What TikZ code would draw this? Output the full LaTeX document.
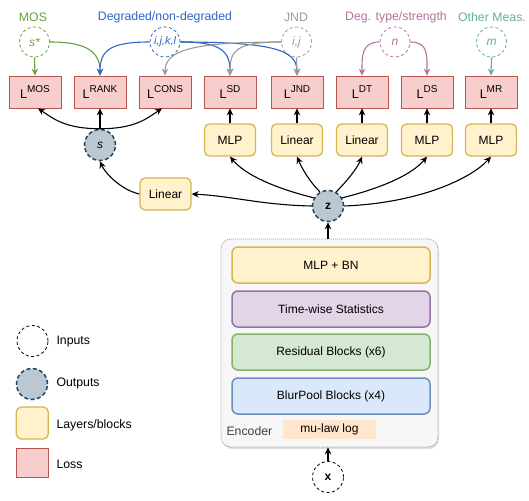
\documentclass[tikz,border=0pt]{standalone}
\usepackage{fontspec}
\setmainfont{Liberation Sans}
\usetikzlibrary{arrows.meta,shadows}
\definecolor{cgreen}{HTML}{64A33B}
\definecolor{cblue}{HTML}{2E64C2}
\definecolor{cgray}{HTML}{9A9A9A}
\definecolor{cpurple}{HTML}{B0739E}
\definecolor{cteal}{HTML}{67AB9F}
\definecolor{lossf}{HTML}{F8CECC}
\definecolor{lossd}{HTML}{B85450}
\definecolor{layf}{HTML}{FFF2CC}
\definecolor{layd}{HTML}{D6B656}
\definecolor{purf}{HTML}{E1D5E7}
\definecolor{purd}{HTML}{9673A6}
\definecolor{grnf}{HTML}{D5E8D4}
\definecolor{grnd}{HTML}{82B366}
\definecolor{bluf}{HTML}{DAE8FC}
\definecolor{blud}{HTML}{6C8EBF}
\definecolor{orgf}{HTML}{FFE6CC}
\definecolor{outf}{HTML}{BAC8D3}
\definecolor{outd}{HTML}{23445D}
\definecolor{encf}{HTML}{F7F7F7}
\definecolor{encd}{HTML}{9A9A9A}
\newcommand{\lossl}[1]{\fontsize{12.5}{14}\selectfont L\raisebox{6.5pt}{\fontsize{10}{12}\selectfont #1}}
\begin{document}
\begin{tikzpicture}[x=1pt,y=1pt,
  every node/.style={font=\fontsize{12}{14}\selectfont},
  inp/.style={circle, draw=#1, text=#1, minimum size=30pt, inner sep=0pt, line width=0.8pt, dash pattern=on 3pt off 2.5pt, font=\fontsize{12}{14}\selectfont\itshape},
  hdr/.style={text=#1, font=\fontsize{12.3}{14}\selectfont},
  lossbox/.style={rectangle, draw=lossd, fill=lossf, line width=0.8pt, minimum width=52pt, minimum height=32pt, inner sep=0pt},
  layer/.style={rectangle, rounded corners=5pt, draw=layd, fill=layf, line width=1.3pt, minimum width=51pt, minimum height=32pt, inner sep=0pt},
  outc/.style={circle, fill=outf, draw=outd, line width=1.5pt, dash pattern=on 4pt off 2.5pt, minimum size=31pt, inner sep=0pt},
  blk/.style={rectangle, rounded corners=6pt, line width=1.5pt, minimum width=198pt, minimum height=36pt, inner sep=0pt},
  arr/.style={-{Stealth[length=7pt,width=6.5pt]}, line width=1.1pt},
  carr/.style={arr, draw=#1},
  legtxt/.style={anchor=west, font=\fontsize{12.3}{14}\selectfont},
]
\useasboundingbox (0,0) rectangle (529,-500);

% headers
\node[hdr=cgreen] (hmos) at (33,-17) {MOS};
\node[hdr=cblue] (hdeg) at (165,-17) {Degraded/non-degraded};
\node[hdr=cgray] (hjnd) at (296,-17) {JND};
\node[hdr=cpurple] (htype) at (396,-17) {Deg. type/strength};
\node[hdr=cteal] (hother) at (492,-17) {Other Meas.};

% inputs
\node[inp=cgreen] (sstar) at (34.5,-42) {s*};
\node[inp=cblue, font=\fontsize{11}{13}\selectfont\itshape] (ijkl) at (165,-42) {i,j,k,l};
\node[inp=cgray] (ij) at (296.5,-42) {i,j};
\node[inp=cpurple] (n) at (395,-42) {n};
\node[inp=cteal] (m) at (491.5,-42) {m};

% losses
\node[lossbox] (mos) at (35,-92) {\lossl{MOS}};
\node[lossbox] (rank) at (100,-92) {\lossl{RANK}};
\node[lossbox] (cons) at (165,-92) {\lossl{CONS}};
\node[lossbox] (sd) at (230,-92) {\lossl{SD}};
\node[lossbox] (jnd) at (297,-92) {\lossl{JND}};
\node[lossbox] (dt) at (362,-92) {\lossl{DT}};
\node[lossbox] (ds) at (427,-92) {\lossl{DS}};
\node[lossbox] (mr) at (491,-92) {\lossl{MR}};

% heads
\node[layer] (mlp1) at (230,-140) {MLP};
\node[layer] (lin1) at (297,-140) {Linear};
\node[layer] (lin2) at (362,-140) {Linear};
\node[layer] (mlp2) at (427,-140) {MLP};
\node[layer] (mlp3) at (491,-140) {MLP};
\node[layer] (lin0) at (165.5,-194) {Linear};

% outputs
\node[outc, font=\fontsize{12}{14}\selectfont\itshape] (s) at (100,-145) {s};
\node[outc, font=\fontsize{12}{14}\selectfont\bfseries] (z) at (328,-206) {z};

% encoder
\node[draw=encd, fill=encf, rounded corners=10pt, line width=0.8pt, dash pattern=on 1pt off 1pt, minimum width=217pt, minimum height=208pt, inner sep=0pt, drop shadow={opacity=0.25, shadow xshift=1pt, shadow yshift=-2pt}] (enc) at (329.5,-343) {};
\node[blk, draw=layd, fill=layf] (mlpbn) at (331,-265) {MLP + BN};
\node[blk, draw=purd, fill=purf] (tws) at (331,-309) {Time-wise Statistics};
\node[blk, draw=grnd, fill=grnf] (res) at (331,-352) {Residual Blocks (x6)};
\node[blk, draw=blud, fill=bluf] (blur) at (331,-396) {BlurPool Blocks (x4)};
\node[anchor=west, text=black!75, font=\fontsize{12.3}{14}\selectfont] (enclab) at (223,-431) {Encoder};
\node[fill=orgf, minimum width=93pt, minimum height=19pt, inner sep=0pt] (mulaw) at (329.5,-429.5) {mu-law log};
\node[inp=black, font=\fontsize{12}{14}\selectfont\bfseries, minimum size=31pt] (x) at (328,-477) {x};

% legend
\node[inp=black, minimum size=31pt] (lin) at (32.5,-341) {};
\node[legtxt] (linT) at (53,-342) {Inputs};
\node[outc, minimum size=31pt] (lout) at (32,-384) {};
\node[legtxt] (loutT) at (53,-383) {Outputs};
\node[layer, minimum width=32pt, minimum height=32pt] (llay) at (32.3,-423) {};
\node[legtxt] (llayT) at (53,-425) {Layers/blocks};
\node[lossbox, minimum width=32pt, minimum height=29pt] (lloss) at (32.3,-463) {};
\node[legtxt] (llossT) at (53,-464) {Loss};

% input connectors
\draw[carr=cgreen] (sstar.south) -- (mos.north);
\draw[carr=cgreen] (sstar.east) .. controls +(35,0) and +(0,25) .. (rank.north);
\draw[carr=cblue] (ijkl.west) .. controls +(-40,0) and +(0,25) .. (rank.north);
\draw[carr=cblue] (ijkl.east) .. controls +(40,0) and +(0,25) .. (sd.north);
\draw[carr=cblue] (ijkl.east) .. controls +(95,0) and +(0,25) .. (jnd.north);
\draw[carr=cgray] (ij.west) .. controls +(-90,0) and +(0,25) .. (cons.north);
\draw[carr=cgray] (ij.west) .. controls +(-45,0) and +(0,25) .. (sd.north);
\draw[carr=cgray] (ij.south) -- (jnd.north);
\draw[carr=cpurple] (n.west) .. controls +(-18,0) and +(0,20) .. (dt.north);
\draw[carr=cpurple] (n.east) .. controls +(18,0) and +(0,20) .. (ds.north);
\draw[carr=cteal] (m.south) -- (mr.north);

% s to losses
\draw[arr] (s.north) -- (rank.south);
\draw[arr] (s.north) .. controls +(-35,0) and +(15,-10) .. ([xshift=3pt]mos.south);
\draw[arr] (s.north) .. controls +(35,0) and +(-15,-10) .. ([xshift=-3pt]cons.south);
\draw[arr] (lin0.west) .. controls +(-18,4) and +(5,-12) .. (s.south);

% heads to losses
\draw[arr] (mlp1.north) -- (sd.south);
\draw[arr] (lin1.north) -- (jnd.south);
\draw[arr] (lin2.north) -- (dt.south);
\draw[arr] (mlp2.north) -- (ds.south);
\draw[arr] (mlp3.north) -- (mr.south);

% z to heads
\draw[arr] (z.west) .. controls +(-50,1) and +(40,-2) .. (lin0.east);
\draw[arr] (z.150) .. controls +(-40,10) and +(15,-18) .. (mlp1.south);
\draw[arr] (z.120) .. controls +(-10,10) and +(5,-12) .. (lin1.south);
\draw[arr] (z.60) .. controls +(10,10) and +(-5,-12) .. (lin2.south);
\draw[arr] (z.30) .. controls +(40,10) and +(-15,-18) .. (mlp2.south);
\draw[arr] (z.east) .. controls +(75,3) and +(-20,-22) .. (mlp3.south);

% encoder flow
\draw[arr] (enc.north -| z) -- (z.south);
\draw[arr] (x.north) -- (enc.south -| x);
\end{tikzpicture}
\end{document}
